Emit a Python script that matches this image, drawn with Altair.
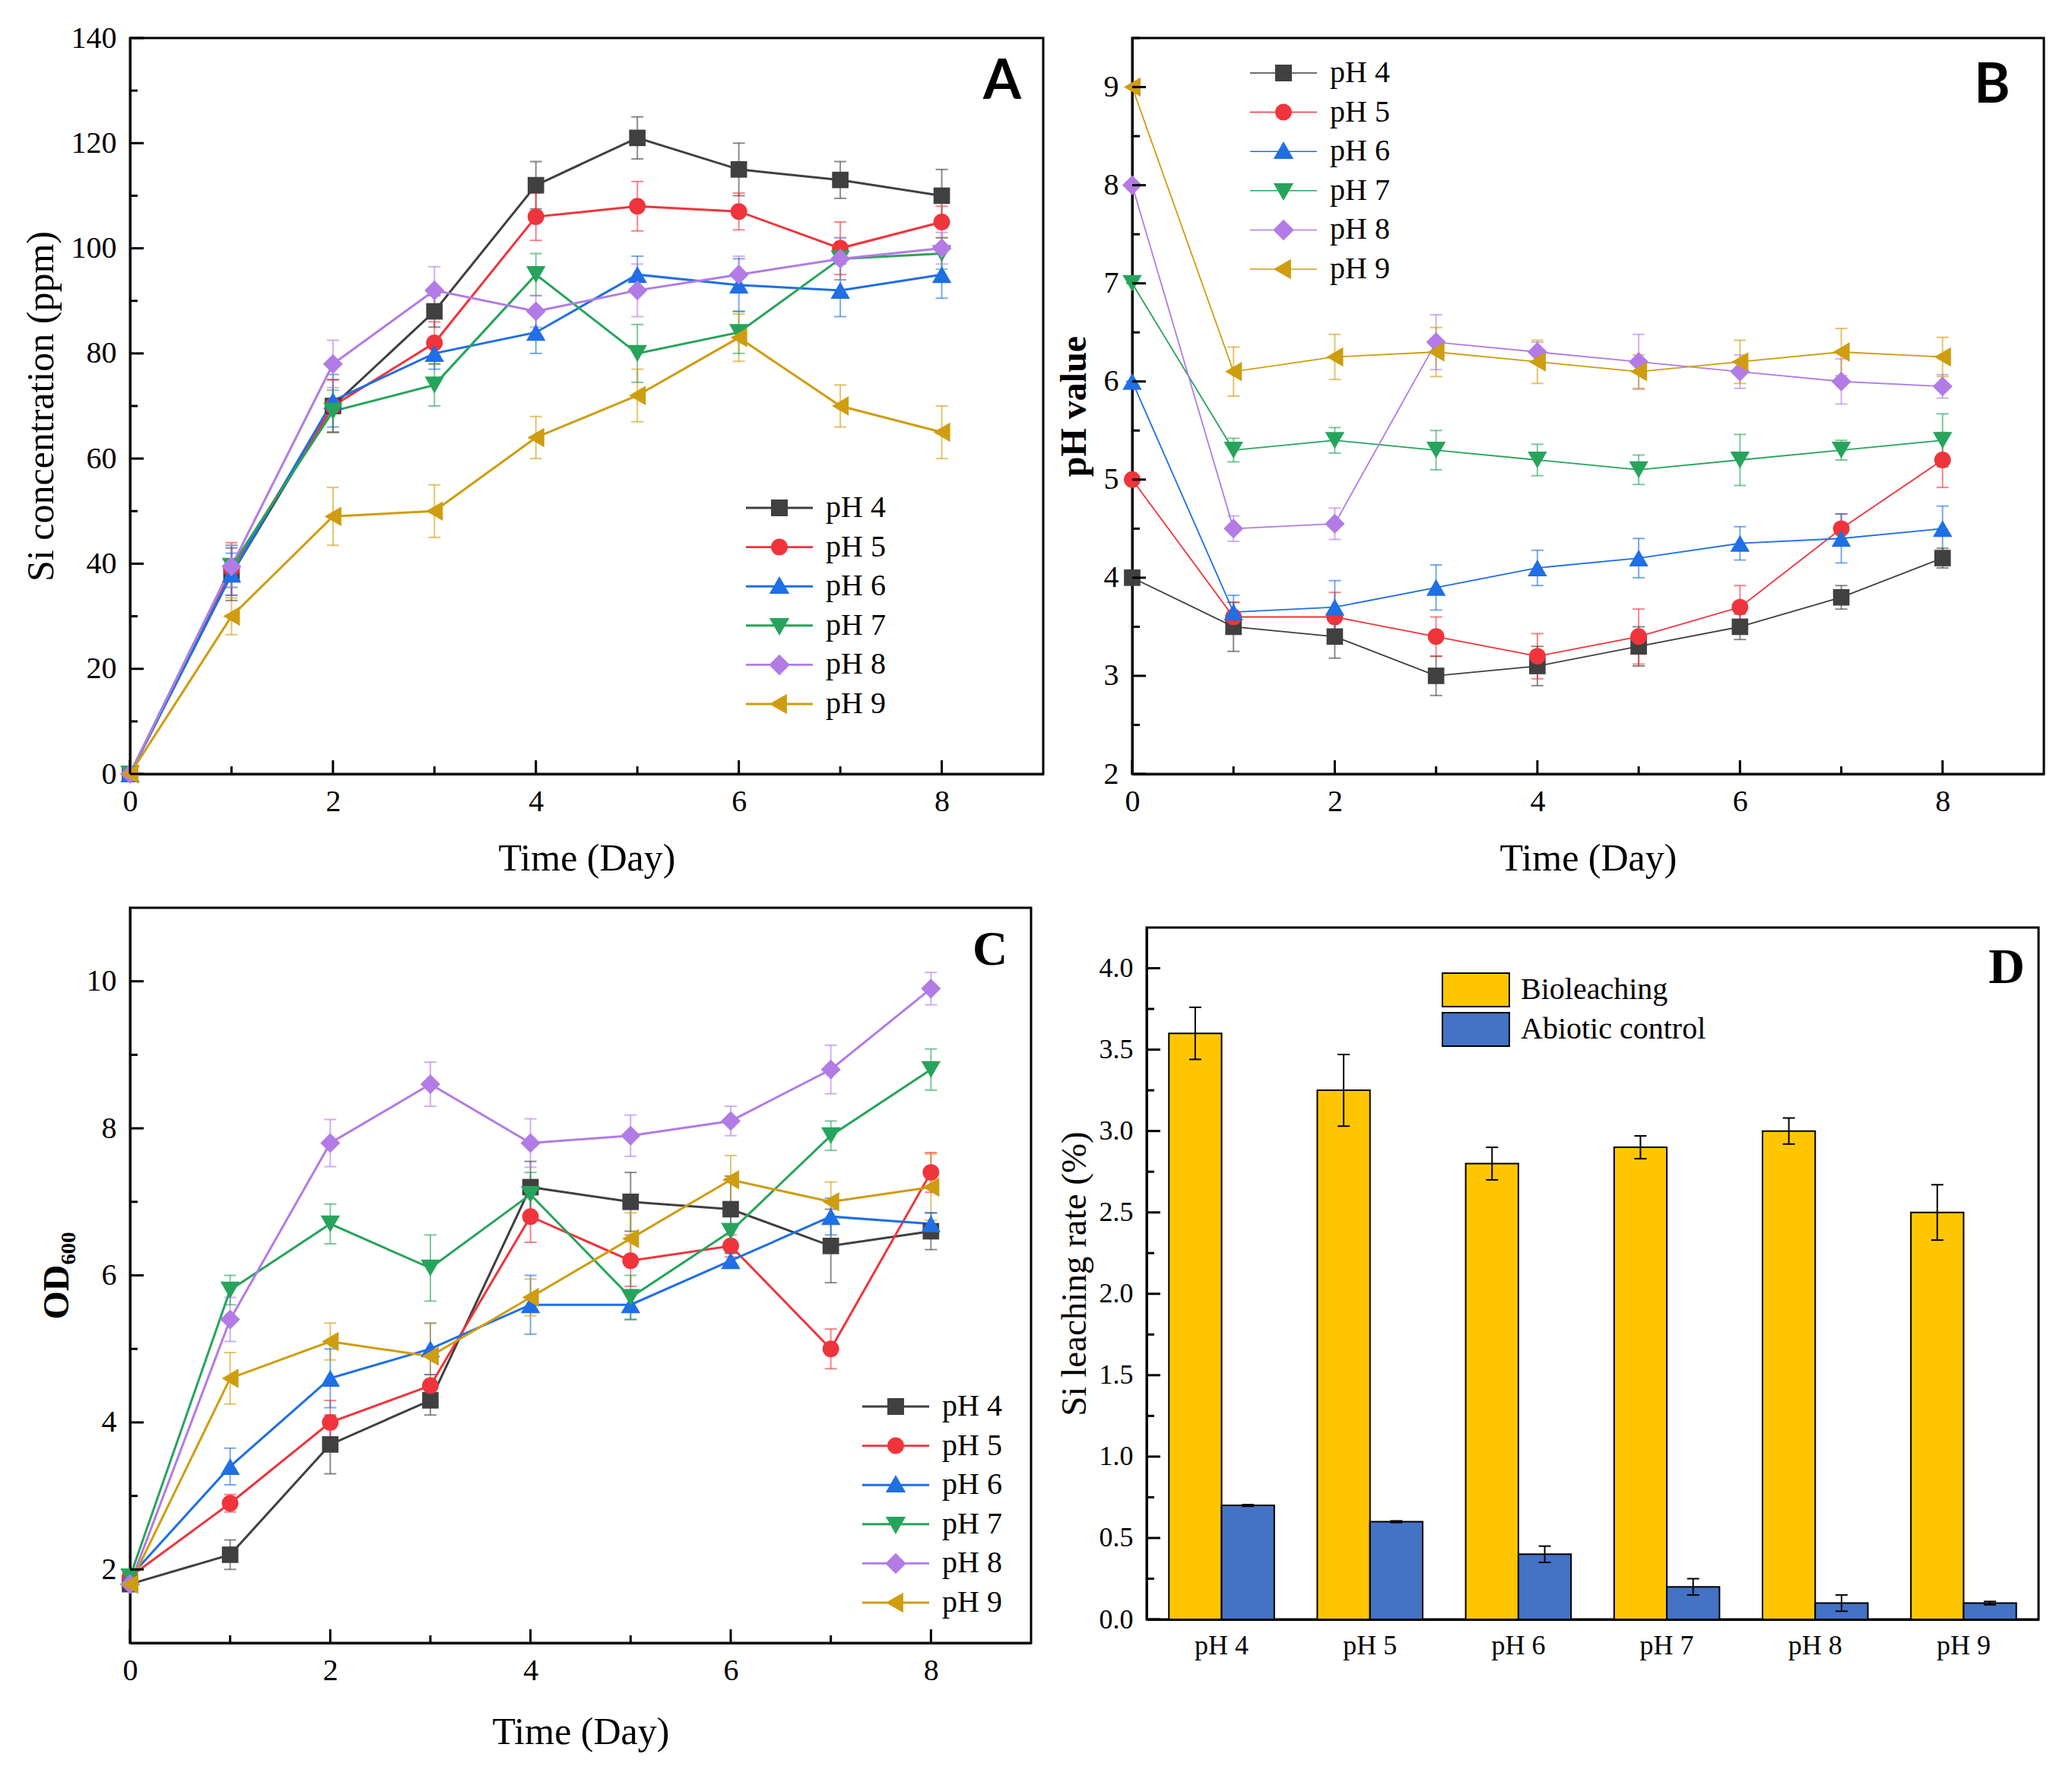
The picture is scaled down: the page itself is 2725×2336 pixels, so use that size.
import altair as alt
import pandas as pd

# ---------------- data ----------------
days = [0, 1, 2, 3, 4, 5, 6, 7, 8]
series = ["pH 4", "pH 5", "pH 6", "pH 7", "pH 8", "pH 9"]
colors = ["#404040", "#f0343c", "#1f6fe5", "#27a45c", "#b27be6", "#cf9d10"]
shapes = ["square", "circle", "triangle-up", "triangle-down", "diamond", "triangle-left"]
shape_sizes = [470, 480, 650, 650, 680, 650]

# Panel A: Si concentration (ppm)
si_mean = [
    [0, 38, 70, 88, 112, 121, 115, 113, 110],
    [0, 39, 70, 82, 106, 108, 107, 100, 105],
    [0, 38, 71, 80, 84, 95, 93, 92, 95],
    [0, 39.5, 69, 74, 95, 80, 84, 98, 99],
    [0, 39.5, 78, 92, 88, 92, 95, 98, 100],
    [0, 30, 49, 50, 64, 72, 83, 70, 65],
]
si_err = [
    [0, 5, 5, 3, 4.5, 4, 5, 3.5, 5],
    [0, 5, 5, 4, 4.5, 4.7, 3.5, 5, 3],
    [0, 4, 5, 3, 4, 3.5, 5, 5, 4.5],
    [0, 4, 4, 4, 4, 5.5, 4, 4, 3],
    [0, 4, 4.5, 4.5, 3, 5, 3.5, 4, 3],
    [0, 3.5, 5.5, 5, 4, 5, 4.5, 4, 5],
]

# Panel B: pH value
ph_mean = [
    [4, 3.5, 3.4, 3.0, 3.1, 3.3, 3.5, 3.8, 4.2],
    [5, 3.6, 3.6, 3.4, 3.2, 3.4, 3.7, 4.5, 5.2],
    [6, 3.65, 3.7, 3.9, 4.1, 4.2, 4.35, 4.4, 4.5],
    [7, 5.3, 5.4, 5.3, 5.2, 5.1, 5.2, 5.3, 5.4],
    [8, 4.5, 4.55, 6.4, 6.3, 6.2, 6.1, 6.0, 5.95],
    [9, 6.1, 6.25, 6.3, 6.2, 6.1, 6.2, 6.3, 6.25],
]
ph_err = [
    [0, 0.25, 0.22, 0.2, 0.2, 0.2, 0.13, 0.12, 0.1],
    [0, 0.15, 0.25, 0.2, 0.23, 0.28, 0.22, 0.15, 0.28],
    [0, 0.17, 0.27, 0.23, 0.18, 0.2, 0.17, 0.25, 0.23],
    [0, 0.12, 0.13, 0.2, 0.16, 0.15, 0.26, 0.1, 0.27],
    [0, 0.13, 0.16, 0.28, 0.1, 0.28, 0.17, 0.23, 0.12],
    [0, 0.25, 0.23, 0.25, 0.22, 0.17, 0.22, 0.24, 0.2],
]

# Panel C: OD600
od_mean = [
    [1.8, 2.2, 3.7, 4.3, 7.2, 7.0, 6.9, 6.4, 6.6],
    [1.9, 2.9, 4.0, 4.5, 6.8, 6.2, 6.4, 5.0, 7.4],
    [1.9, 3.4, 4.6, 5.0, 5.6, 5.6, 6.2, 6.8, 6.7],
    [1.9, 5.8, 6.7, 6.1, 7.1, 5.7, 6.6, 7.9, 8.8],
    [1.8, 5.4, 7.8, 8.6, 7.8, 7.9, 8.1, 8.8, 9.9],
    [1.8, 4.6, 5.1, 4.9, 5.7, 6.5, 7.3, 7.0, 7.2],
]
od_err = [
    [0, 0.2, 0.4, 0.2, 0.35, 0.4, 0.45, 0.5, 0.25],
    [0, 0.12, 0.3, 0.15, 0.35, 0.35, 0.15, 0.27, 0.27],
    [0, 0.25, 0.4, 0.35, 0.4, 0.2, 0.1, 0.25, 0.15],
    [0, 0.2, 0.27, 0.45, 0.3, 0.3, 0.3, 0.2, 0.28],
    [0, 0.3, 0.32, 0.3, 0.33, 0.28, 0.2, 0.33, 0.22],
    [0, 0.35, 0.25, 0.45, 0.25, 0.35, 0.33, 0.27, 0.45],
]

# Panel D: Si leaching rate (%)
cats = ["pH 4", "pH 5", "pH 6", "pH 7", "pH 8", "pH 9"]
groups = ["Bioleaching", "Abiotic control"]
group_colors = ["#ffc600", "#4472c4"]
bio = [3.6, 3.25, 2.8, 2.9, 3.0, 2.5]
bio_err = [0.16, 0.22, 0.1, 0.07, 0.08, 0.17]
abio = [0.7, 0.6, 0.4, 0.2, 0.1, 0.1]
abio_err = [0.005, 0.005, 0.05, 0.05, 0.05, 0.01]

SERIF = "Liberation Serif"


def legend_paths(t):
    line = f"M-4,-{t}H4V{t}H-4Z"
    marks = [
        "M-1,-1H1V1H-1Z",
        "M1,0A1,1,0,1,1,-1,0A1,1,0,1,1,1,0Z",
        "M0,-1.2L1.2,0.9L-1.2,0.9Z",
        "M0,1.2L-1.2,-0.9L1.2,-0.9Z",
        "M0,-1.25L1.25,0L0,1.25L-1.25,0Z",
        "M-1.2,0L0.9,-1.2L0.9,1.2Z",
    ]
    return [line + m for m in marks]


def line_panel(means, errs, ydom, ymajor, yminor, ytitle, ytitle_weight, ytitle_size,
               lw, leg_x, leg_y, leg_t, letter, letter_font, letter_size, letter_x, letter_y,
               W, H, xtitle_pad=30):
    rows = []
    for s, m, e in zip(series, means, errs):
        for d, v, er in zip(days, m, e):
            rows.append(dict(day=d, series=s, value=v, lo=v - er, hi=v + er))
    df = pd.DataFrame(rows)

    xs = alt.Scale(domain=[0, 9], nice=False, zero=False)
    ys = alt.Scale(domain=ydom, nice=False, zero=False)
    xa = alt.Axis(values=[0, 2, 4, 6, 8], title="Time (Day)", labelFont=SERIF, labelFontSize=40,
                  labelPadding=16, titlePadding=xtitle_pad)
    ya = alt.Axis(values=ymajor, title=ytitle, titleFontWeight=ytitle_weight, labelFont=SERIF,
                  labelFontSize=40, titleFontSize=ytitle_size, labelPadding=18, titlePadding=14)

    def X(f):
        return alt.X(f, scale=xs, axis=xa)

    def Y(f):
        return alt.Y(f, scale=ys, axis=ya)

    cs = alt.Scale(domain=series, range=colors)
    stk = alt.Stroke("series:N", scale=cs, legend=None)
    fil = alt.Fill("series:N", scale=cs, legend=None)
    base = alt.Chart(df)

    leg = alt.Legend(orient="none", legendX=leg_x, legendY=leg_y, title=None,
                     labelFont=SERIF, labelFontSize=40, labelColor="black",
                     symbolSize=484, labelOffset=41, rowPadding=11.6, padding=0,
                     symbolOpacity=1, symbolStrokeWidth=0)
    legend_layer = base.transform_filter("false").mark_point(
        filled=True, opacity=1, size=484).encode(
        color=alt.Color("series:N", scale=cs, legend=leg),
        shape=alt.Shape("series:N", scale=alt.Scale(domain=series, range=legend_paths(leg_t)), legend=leg),
    )

    err = base.mark_rule(strokeWidth=2, opacity=0.6).encode(
        x=X("day:Q"), y=Y("lo:Q"), y2="hi:Q", stroke=stk)
    caps = base.transform_fold(["lo", "hi"], as_=["bound", "bval"]).mark_tick(
        orient="horizontal", size=16, thickness=2, opacity=0.6).encode(
        x=X("day:Q"), y=Y("bval:Q"), fill=fil)
    lines = base.mark_line(strokeWidth=lw).encode(x=X("day:Q"), y=Y("value:Q"), stroke=stk)
    pts = [
        base.transform_filter(alt.datum.series == s).mark_point(
            filled=True, opacity=1, size=sz, shape=sh).encode(
            x=X("day:Q"), y=Y("value:Q"), fill=fil)
        for s, sh, sz in zip(series, shapes, shape_sizes)
    ]

    xt_major = alt.Chart(pd.DataFrame({"v": [0, 2, 4, 6, 8]})).mark_rule(
        color="black", strokeWidth=3).encode(x=X("v:Q"), y=alt.value(H), y2=alt.value(H - 18))
    xt_minor = alt.Chart(pd.DataFrame({"v": [1, 3, 5, 7]})).mark_rule(
        color="black", strokeWidth=3).encode(x=X("v:Q"), y=alt.value(H), y2=alt.value(H - 10))
    yt_major = alt.Chart(pd.DataFrame({"v": ymajor})).mark_rule(
        color="black", strokeWidth=3).encode(y=Y("v:Q"), x=alt.value(0), x2=alt.value(18))
    yt_minor = alt.Chart(pd.DataFrame({"v": yminor})).mark_rule(
        color="black", strokeWidth=3).encode(y=Y("v:Q"), x=alt.value(0), x2=alt.value(10))

    lab = alt.Chart(pd.DataFrame({"t": [letter]})).mark_text(
        font=letter_font, fontSize=letter_size, fontWeight="bold", align="center",
        baseline="alphabetic", color="black").encode(
        text="t:N", x=alt.value(letter_x), y=alt.value(letter_y))

    return alt.layer(legend_layer, err, caps, lines, *pts,
                     xt_major, xt_minor, yt_major, yt_minor, lab).properties(width=W, height=H)


panel_a = line_panel(si_mean, si_err, [0, 140], list(range(0, 141, 20)), list(range(10, 131, 20)),
                     "Si concentration (ppm)", "normal", 50, 3,
                     834, 598, 0.13, "A", "Lato", 72, 1147, 80, 1201, 968)
panel_b = line_panel(ph_mean, ph_err, [2, 9.5], [2, 3, 4, 5, 6, 7, 8, 9],
                     [2.5, 3.5, 4.5, 5.5, 6.5, 7.5, 8.5, 9.5],
                     "pH value", "bold", 48, 1.8,
                     179, 26, 0.07, "B", "Lato", 72, 1131, 85, 1199, 968)
panel_c = line_panel(od_mean, od_err, [1, 11], [2, 4, 6, 8, 10], [3, 5, 7, 9],
                     "OD\u2086\u2080\u2080", "bold", 48, 3,
                     987, 636, 0.13, "C", SERIF, 64, 1131, 75, 1185, 967, xtitle_pad=36)

# ---------------- panel D ----------------
rows = []
for c, v, e in zip(cats, bio, bio_err):
    rows.append(dict(cat=c, group=groups[0], value=v, lo=v - e, hi=v + e))
for c, v, e in zip(cats, abio, abio_err):
    rows.append(dict(cat=c, group=groups[1], value=v, lo=v - e, hi=v + e))
dfd = pd.DataFrame(rows)

DW, DH = 1173, 910
dx = alt.X("cat:N", scale=alt.Scale(domain=cats, paddingInner=0.29, paddingOuter=0.15),
           axis=alt.Axis(title=None, labelAngle=0, labelFont=SERIF, labelFontSize=36, labelPadding=17))
dxo = alt.XOffset("group:N", scale=alt.Scale(domain=groups, paddingInner=0, paddingOuter=0))
dys = alt.Scale(domain=[0, 4.25], nice=False, zero=True)
dya = alt.Axis(values=[0, 0.5, 1, 1.5, 2, 2.5, 3, 3.5, 4], format=".1f",
               title="Si leaching rate (%)", titleFontSize=47, labelFont=SERIF, labelFontSize=36,
               labelPadding=18, titlePadding=8)


def DY(f):
    return alt.Y(f, scale=dys, axis=dya)


dleg = alt.Legend(orient="none", legendX=410, legendY=59, title=None,
                  symbolType="M-2,-1H2V1H-2Z", symbolSize=1936, symbolStrokeColor="black",
                  symbolStrokeWidth=2, labelOffset=36, rowPadding=0, padding=0, labelLimit=600,
                  labelFont=SERIF, labelFontSize=40, labelColor="black", symbolOpacity=1)
bars = alt.Chart(dfd).mark_bar(stroke="black", strokeWidth=2).encode(
    x=dx, xOffset=dxo, y=DY("value:Q"),
    color=alt.Color("group:N", scale=alt.Scale(domain=groups, range=group_colors), legend=dleg))
derr = alt.Chart(dfd).mark_rule(color="black", strokeWidth=2).encode(
    x=dx, xOffset=dxo, y=DY("lo:Q"), y2="hi:Q")
dcaps = alt.Chart(dfd).transform_fold(["lo", "hi"], as_=["bound", "bval"]).mark_tick(
    orient="horizontal", size=16, thickness=2, color="black", opacity=1).encode(
    x=dx, xOffset=dxo, y=DY("bval:Q"))
dyt_major = alt.Chart(pd.DataFrame({"v": [0, 0.5, 1, 1.5, 2, 2.5, 3, 3.5, 4]})).mark_rule(
    color="black", strokeWidth=3).encode(y=DY("v:Q"), x=alt.value(0), x2=alt.value(18))
dyt_minor = alt.Chart(pd.DataFrame({"v": [0.25, 0.75, 1.25, 1.75, 2.25, 2.75, 3.25, 3.75]})).mark_rule(
    color="black", strokeWidth=3).encode(y=DY("v:Q"), x=alt.value(0), x2=alt.value(10))
dlab = alt.Chart(pd.DataFrame({"t": ["D"]})).mark_text(
    font=SERIF, fontSize=66, fontWeight="bold", align="center", baseline="alphabetic",
    color="black").encode(text="t:N", x=alt.value(1131), y=alt.value(73))

panel_d = alt.layer(bars, derr, dcaps, dyt_major, dyt_minor, dlab).properties(
    width=DW, height=DH, title=alt.TitleParams(" ", fontSize=20, offset=6))

chart = alt.concat(panel_a, panel_b, panel_c, panel_d, columns=2,
                   spacing={"row": 36, "column": 13}, align="none").resolve_scale(
    color="independent", shape="independent", fill="independent", stroke="independent"
).resolve_legend(
    color="independent", shape="independent", fill="independent", stroke="independent"
).properties(
    padding={"left": 19, "top": 20, "right": 5, "bottom": 5}
).configure(font=SERIF).configure_view(stroke="black", strokeWidth=3).configure_axis(
    labelFont=SERIF, titleFont=SERIF, labelColor="black", titleColor="black",
    domainColor="black", domainWidth=3, grid=False, ticks=False, tickSize=0,
    labelFontSize=40, titleFontSize=50, titleFontWeight="normal",
    labelFlush=False, labelOverlap=False
).configure_legend(labelFont=SERIF, labelColor="black")

chart.save("out.html", embed_options={"renderer": "svg", "actions": False})
